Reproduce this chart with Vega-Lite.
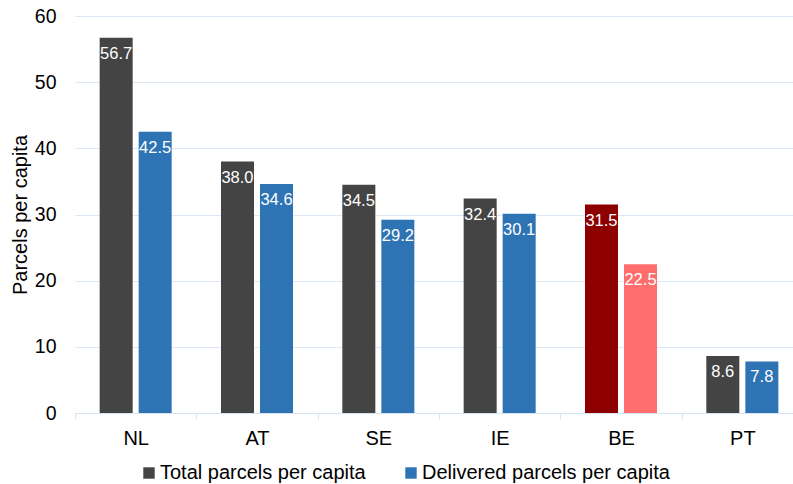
{
  "$schema": "https://vega.github.io/schema/vega-lite/v6.json",
  "autosize": {"type": "none"},
  "padding": {"left": 75, "top": 16, "right": 0, "bottom": 71},
  "width": 728,
  "height": 397,
  "config": {
    "font": "Liberation Sans",
    "view": {"stroke": null}
  },
  "data": {
    "values": [
      {"country": "NL", "series": "Total parcels per capita", "value": 56.7},
      {"country": "NL", "series": "Delivered parcels per capita", "value": 42.5},
      {"country": "AT", "series": "Total parcels per capita", "value": 38.0},
      {"country": "AT", "series": "Delivered parcels per capita", "value": 34.6},
      {"country": "SE", "series": "Total parcels per capita", "value": 34.5},
      {"country": "SE", "series": "Delivered parcels per capita", "value": 29.2},
      {"country": "IE", "series": "Total parcels per capita", "value": 32.4},
      {"country": "IE", "series": "Delivered parcels per capita", "value": 30.1},
      {"country": "BE", "series": "Total parcels per capita", "value": 31.5},
      {"country": "BE", "series": "Delivered parcels per capita", "value": 22.5},
      {"country": "PT", "series": "Total parcels per capita", "value": 8.6},
      {"country": "PT", "series": "Delivered parcels per capita", "value": 7.8}
    ]
  },
  "encoding": {
    "x": {
      "field": "country",
      "type": "nominal",
      "sort": ["NL", "AT", "SE", "IE", "BE", "PT"],
      "scale": {"paddingInner": 0, "paddingOuter": 0},
      "axis": {
        "title": null,
        "labelAngle": 0,
        "labelFontSize": 20,
        "labelColor": "#000000",
        "labelPadding": 9,
        "domainColor": "#D6E4F2",
        "tickColor": "#D6E4F2",
        "tickSize": 6,
        "tickBand": "extent"
      }
    },
    "xOffset": {
      "field": "series",
      "type": "nominal",
      "sort": ["Total parcels per capita", "Delivered parcels per capita"],
      "scale": {"paddingInner": 0.154, "paddingOuter": 0.632}
    },
    "y": {
      "field": "value",
      "type": "quantitative",
      "scale": {"domain": [0, 60]},
      "axis": {
        "title": "Parcels per capita",
        "titleFontSize": 20,
        "titleFontWeight": "normal",
        "titleColor": "#000000",
        "titlePadding": 4,
        "values": [0, 10, 20, 30, 40, 50, 60],
        "labelFontSize": 19.5,
        "labelColor": "#000000",
        "labelPadding": 19,
        "ticks": false,
        "domain": false,
        "gridColor": "#DCE8F5",
        "gridWidth": 1
      }
    }
  },
  "layer": [
    {
      "mark": {"type": "bar"},
      "encoding": {
        "color": {
          "condition": [
            {"test": "datum.country === 'BE' && datum.series === 'Total parcels per capita'", "value": "#8E0000"},
            {"test": "datum.country === 'BE' && datum.series === 'Delivered parcels per capita'", "value": "#FF6D6D"}
          ],
          "field": "series",
          "type": "nominal",
          "sort": ["Total parcels per capita", "Delivered parcels per capita"],
          "scale": {
            "domain": ["Total parcels per capita", "Delivered parcels per capita"],
            "range": ["#444444", "#2E74B5"]
          },
          "legend": {
            "title": null,
            "orient": "none",
            "direction": "horizontal",
            "legendX": 64,
            "legendY": 447,
            "padding": 0,
            "symbolType": "square",
            "symbolSize": 130,
            "symbolStrokeWidth": 0,
            "labelFontSize": 20,
            "labelColor": "#000000",
            "labelOffset": 1,
            "labelLimit": 400,
            "columnPadding": 35
          }
        }
      }
    },
    {
      "mark": {"type": "text", "color": "#FFFFFF", "fontSize": 16.5, "baseline": "top", "dy": 8},
      "encoding": {
        "text": {"field": "value", "type": "quantitative", "format": ".1f"}
      }
    }
  ]
}
